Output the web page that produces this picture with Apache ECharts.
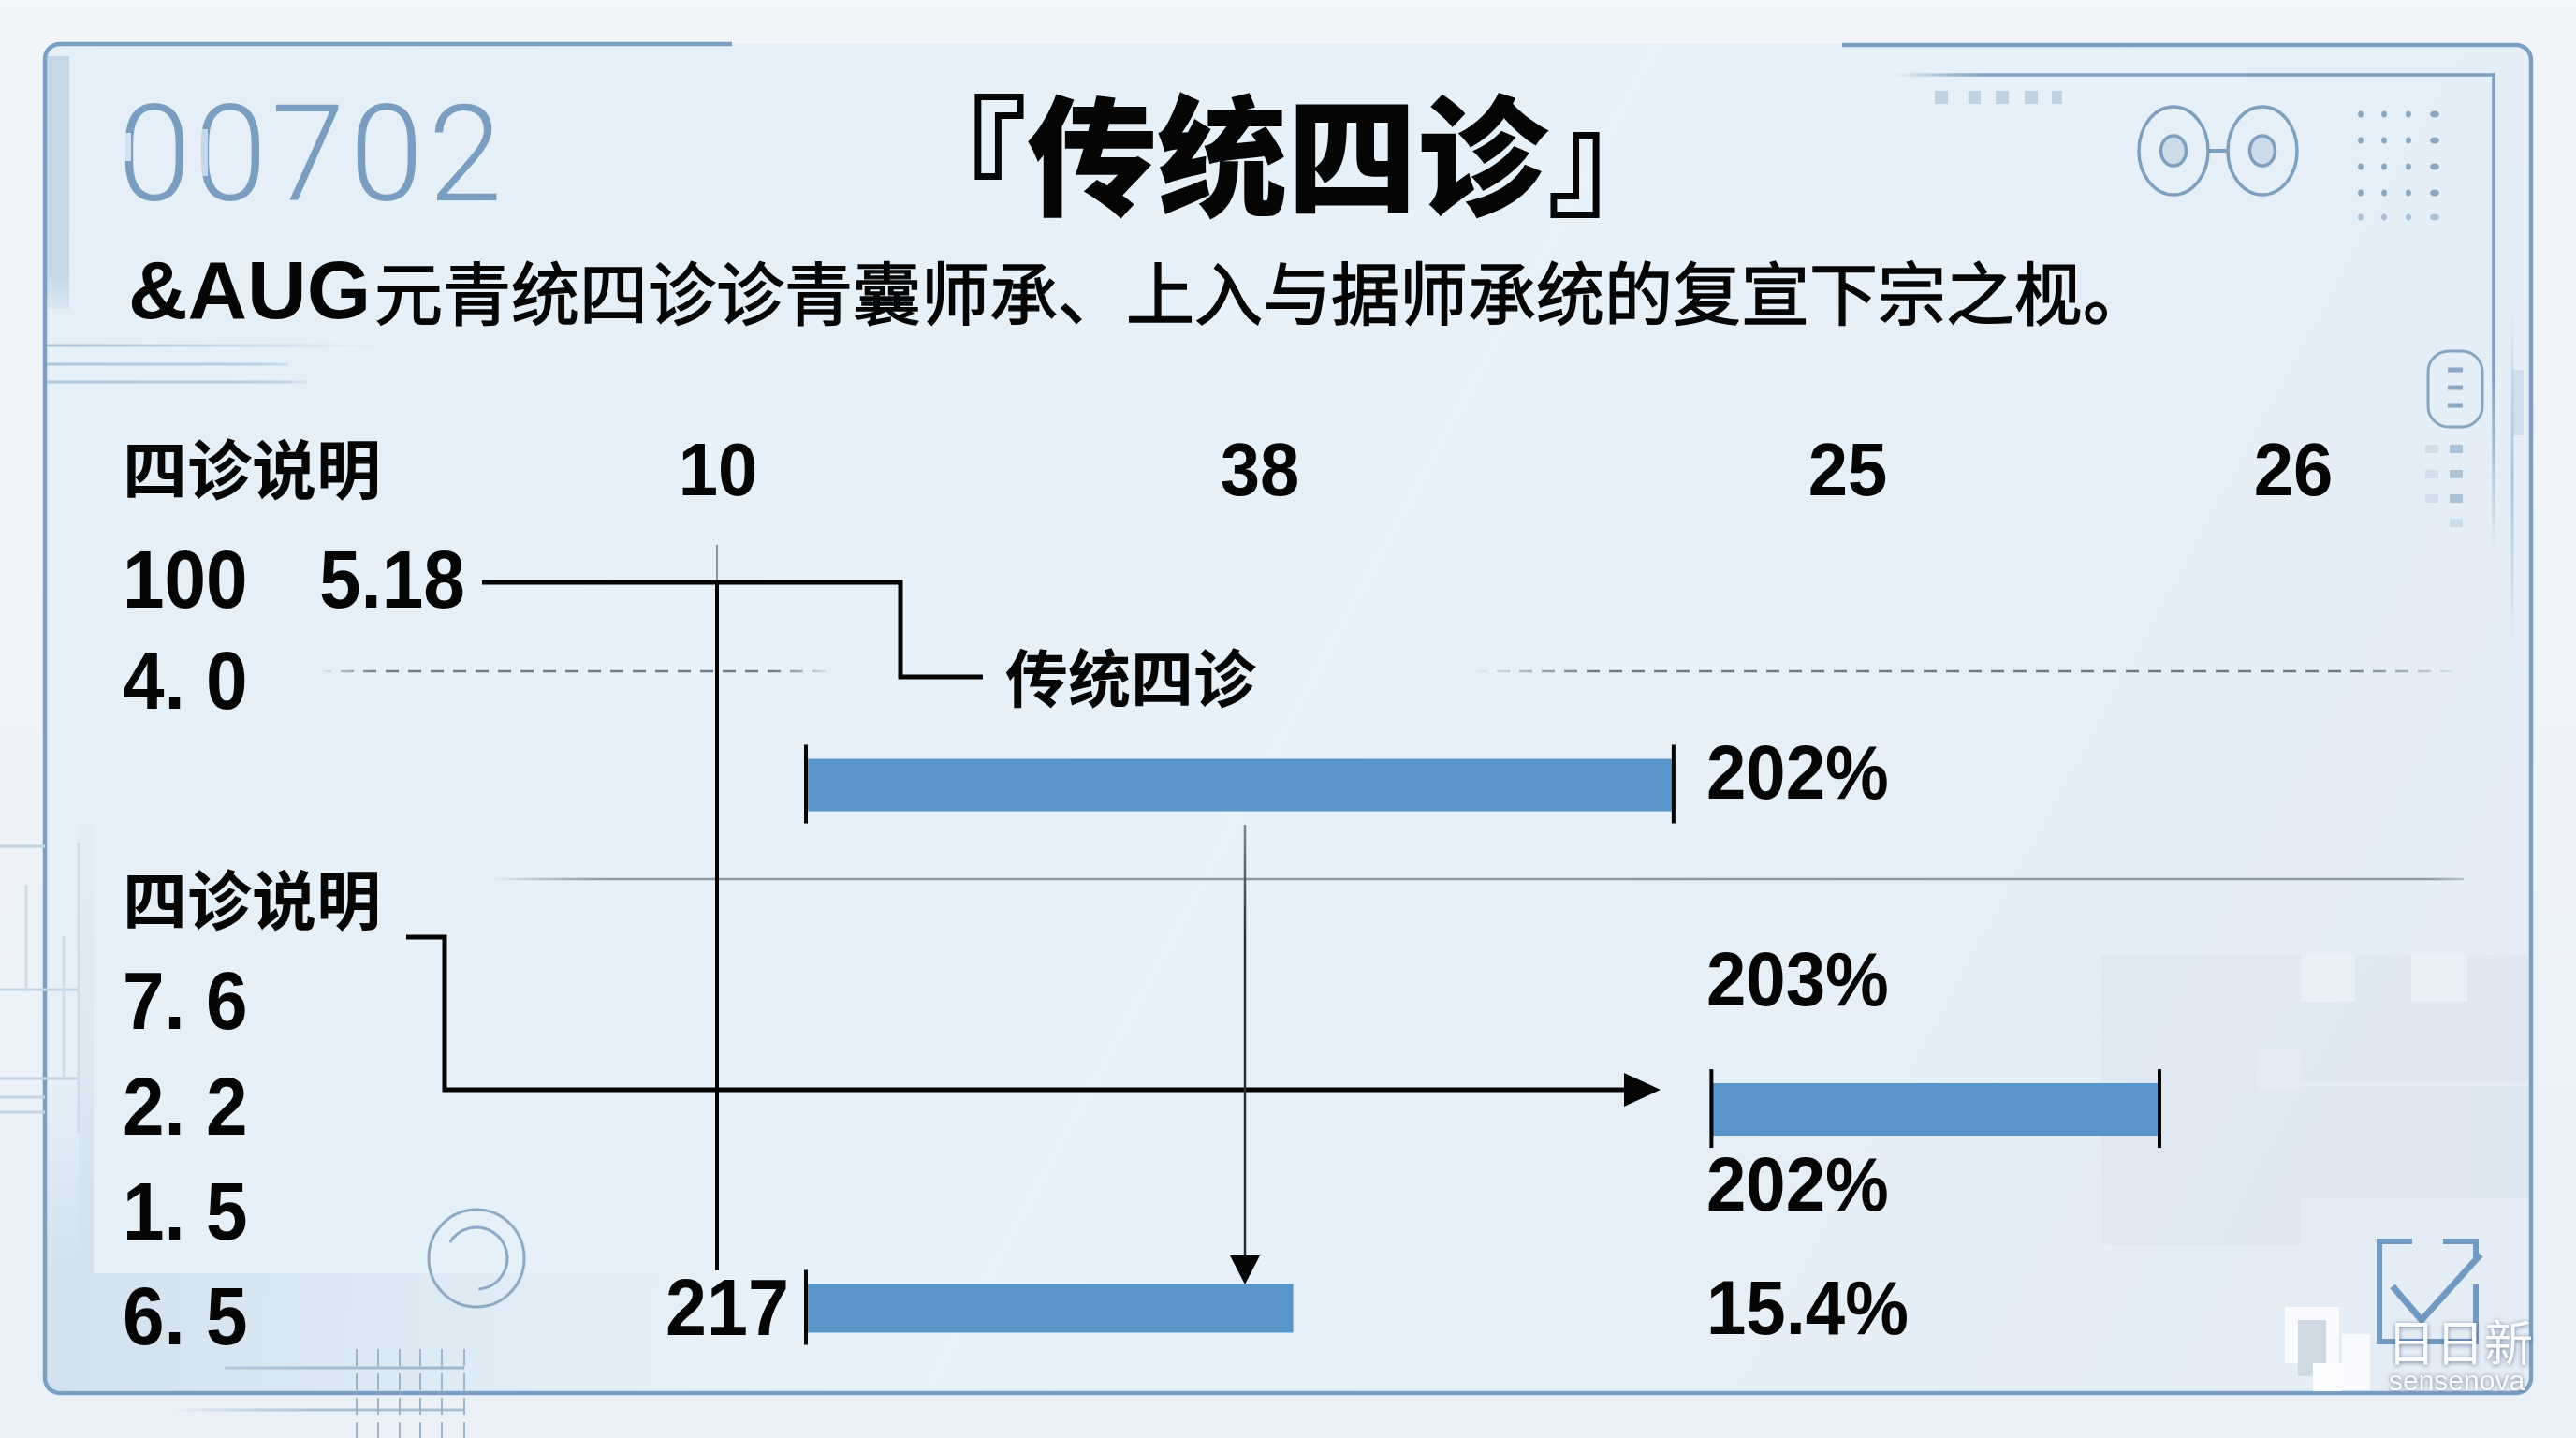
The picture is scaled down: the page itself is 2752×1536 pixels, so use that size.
<!DOCTYPE html>
<html><head><meta charset="utf-8">
<style>html,body{margin:0;padding:0;background:#eef3fa}#c{width:2752px;height:1536px}</style>
<script src="https://cdn.jsdelivr.net/npm/echarts@6/dist/echarts.min.js"></script>
</head><body><div id="c"></div>
<script>
// ---------- data ----------
const sectionCode = ['0', '0', '7', '0', '2'];
const titleText = '『传统四诊』';
const subtitleLatin = '&AUG';
const subtitleText = '元青统四诊诊青囊师承、上入与据师承统的复宣下宗之枧。';
const headerLabel = '四诊说明';
const columnTicks = ['10', '38', '25', '26'];
const upperRowLabels = ['100', '5.18', '4. 0'];
const calloutLabel = '传统四诊';
const lowerRowLabels = ['7. 6', '2. 2', '1. 5', '6. 5'];
const startLabel = '217';
const percentLabels = ['202%', '203%', '202%', '15.4%'];
const barRows = [0, 62, 100];
const barStarts = [0, 66.9, 0];
const barEnds = [64.1, 100, 36];
const barRightTick = [1, 1, 0];

// ---------- helpers ----------
const SANS = '"Liberation Sans","Noto Sans CJK SC",sans-serif';
const CJK = '"Noto Sans CJK SC","Liberation Sans",sans-serif';
const INK = '#050505';
const FRAME = '#7ba0c3';
const G = [];
const grad = (x0, y0, x1, y1, stops) =>
  new echarts.graphic.LinearGradient(x0, y0, x1, y1, stops.map(s => ({offset: s[0], color: s[1]})), true);
const text = (t, x, y, font, opt) => {
  const o = Object.assign({}, opt || {});
  const sx = o.sx || 1;
  delete o.sx;
  G.push({type: 'text', silent: true, z: 10, x, y, scaleX: sx, style: Object.assign({
    text: t, x: 0, y: 0, font, fill: INK, textAlign: 'left', textVerticalAlign: 'middle'}, o)});
};
const line = (x1, y1, x2, y2, stroke, lineWidth, extra) => G.push({type: 'line', silent: true, z: 5,
  shape: {x1, y1, x2, y2}, style: Object.assign({stroke, lineWidth}, extra || {})});
const poly = (points, stroke, lineWidth, z) => G.push({type: 'polyline', silent: true, z: z || 5,
  shape: {points}, style: {stroke, lineWidth, fill: 'none', lineJoin: 'miter'}});
const rect = (x, y, width, height, fill, r, z) => G.push({type: 'rect', silent: true, z: z || 1,
  shape: {x, y, width, height, r: r || 0}, style: {fill}});
const tri = (points) => G.push({type: 'polygon', silent: true, z: 6, shape: {points}, style: {fill: INK}});
const ell = (cx, cy, rx, ry, stroke, lineWidth, fill) => G.push({type: 'ellipse', silent: true, z: 3,
  shape: {cx, cy, rx, ry}, style: {stroke, lineWidth, fill: fill || 'none'}});
const corner = (cx, cy, r, a0, a1) => {
  const pts = [];
  for (let i = 0; i <= 8; i++) {
    const a = (a0 + (a1 - a0) * i / 8) * Math.PI / 180;
    pts.push([cx + r * Math.cos(a), cy + r * Math.sin(a)]);
  }
  return pts;
};

// ---------- background panel ----------
rect(0, 0, 2752, 1536, grad(0, 0, 0, 1536, [[0, '#f2f5fa'], [0.5, '#eff4fa'], [1, '#e9f0f8']]), 0, 0);
rect(48, 47, 2656, 1441, grad(48, 47, 2704, 1488, [[0, '#e4eff8'], [0.5, '#e7f1f9'], [1, '#e4edf6']]), 16, 0);
rect(50, 60, 24, 270, grad(0, 290, 0, 350, [[0, '#c3d7e7'], [1, 'rgba(195,215,231,0)']]));
const DARK = 'rgba(125,140,170,0.045)', LIGHT = 'rgba(255,255,255,0.12)';
rect(2245, 1020, 213, 310, DARK);
rect(2458, 1020, 58, 50, LIGHT);
rect(2516, 1020, 60, 50, DARK);
rect(2576, 1020, 60, 50, LIGHT);
rect(2636, 1020, 66, 50, DARK);
rect(2458, 1070, 244, 86, DARK);
rect(2410, 1120, 48, 46, LIGHT);
rect(2458, 1160, 182, 120, DARK);
rect(2640, 1160, 62, 120, 'rgba(125,140,170,0.07)');
rect(84, 880, 16, 480, grad(0, 880, 0, 1360, [[0, '#e2edf6'], [1, '#d6e4ef']]));
rect(50, 1360, 720, 126, grad(50, 0, 770, 0, [[0, '#d2e1ee'], [1, 'rgba(210,225,238,0)']]));
rect(50, 1150, 50, 210, grad(0, 1150, 0, 1360, [[0, 'rgba(210,225,238,0)'], [1, '#d2e1ee']]));

// ---------- frame ----------
poly([[782, 47], [64, 47]].concat(corner(64, 63, 16, 270, 180), [[48, 1472]],
  corner(64, 1472, 16, 180, 90), [[2688, 1488]], corner(2688, 1472, 16, 90, 0),
  [[2704, 64]], corner(2688, 64, 16, 0, -90), [[1968, 48]]), FRAME, 4.5, 2);
line(2022, 80, 2664, 80, grad(2022, 0, 2120, 0, [[0, 'rgba(123,160,195,0)'], [1, FRAME]]), 3.5);
line(2664, 78, 2664, 590, grad(0, 400, 0, 590, [[0, FRAME], [1, 'rgba(123,160,195,0)']]), 3.5);
line(2684, 330, 2684, 690, grad(0, 330, 0, 690, [[0, 'rgba(168,195,218,0)'], [0.5, '#a8c3da'], [1, 'rgba(168,195,218,0)']]), 3);
rect(2684, 395, 12, 70, 'rgba(190,212,230,0.6)');

// left stubs
line(50, 369, 400, 369, grad(50, 0, 410, 0, [[0, '#a5bed6'], [1, 'rgba(165,190,214,0)']]), 3);
line(50, 389, 308, 389, grad(50, 0, 320, 0, [[0, '#aec6da'], [0.8, '#bcd1e2'], [1, 'rgba(180,205,225,0.3)']]), 3);
line(50, 408, 328, 408, grad(50, 0, 330, 0, [[0, '#aec6da'], [0.85, '#bcd1e2'], [1, 'rgba(180,205,225,0.3)']]), 3);

// outer-left faint structure
[[0, 904, 48], [0, 1057, 84], [0, 1152, 84], [0, 1172, 48], [0, 1188, 48]].forEach(h =>
  line(h[0], h[1], h[2], h[1], '#c3d4e3', 3));
[[28, 945, 1057], [68, 1000, 1152], [84, 900, 1210]].forEach(v => line(v[0], v[1], v[0], v[2], '#cfdeea', 3));

// bottom-left grid ticks
line(240, 1461, 496, 1461, grad(100, 0, 496, 0, [[0, 'rgba(160,185,208,0)'], [0.6, '#a3bcd3'], [1, '#9db7cf']]), 3);
line(183, 1506, 496, 1506, grad(183, 0, 496, 0, [[0, 'rgba(160,185,208,0)'], [0.5, '#a9c0d5'], [1, '#a9c0d5']]), 3);
[381, 404, 427, 449, 472, 496].forEach(x =>
  line(x, 1441, x, 1536, '#9cb5cc', 2, {lineDash: [18, 8]}));

// bottom-left circle
ell(509, 1344, 51, 52, '#8ea9c5', 3);
G.push({type: 'arc', silent: true, z: 3, shape: {cx: 509, cy: 1344, r: 33, startAngle: -2.6, endAngle: 1.5},
  style: {stroke: '#8ea9c5', lineWidth: 3, fill: 'none'}});

// glasses
[2322, 2417].forEach(cx => {
  ell(cx, 161, 37, 47, '#7f9fbf', 3.5);
  ell(cx, 161, 13.5, 16, '#7f9fbf', 3.5, '#cddcea');
});
line(2358, 161, 2382, 161, '#7f9fbf', 4);

// dot grid
[122, 150, 178, 206, 232].forEach((y, r) => [2522, 2547, 2573, 2601].forEach((x, c) =>
  G.push({type: 'ellipse', silent: true, z: 3, shape: {cx: x, cy: y, rx: c === 3 ? 5 : 3, ry: 3.5},
    style: {fill: r === 4 ? '#a9c0d5' : '#8ba6c1'}})));

// blurred top dashes
[[2067, 14], [2103, 13], [2132, 14], [2163, 14], [2192, 11]].forEach(d =>
  rect(d[0], 97, d[1], 14, '#c0d2e2'));

// pill icon
G.push({type: 'rect', silent: true, z: 3, shape: {x: 2594, y: 375, width: 58, height: 81, r: 22},
  style: {fill: 'none', stroke: '#86a5c2', lineWidth: 3}});
[395, 414, 433].forEach(y => line(2615, y, 2631, y, '#8ba9c5', 5));
[[2598, 479], [2624, 479], [2598, 506], [2624, 506], [2598, 532], [2624, 532], [2624, 558]].forEach((s, i) =>
  rect(s[0] - 7, s[1] - 4, 14, 9, s[0] === 2598 ? '#d2dfeb' : (i === 6 ? '#cddcea' : '#abc2d7'), 1, 3));

// checkbox
poly([[2577, 1326], [2542, 1326], [2542, 1433], [2645, 1433], [2645, 1372]], '#7299c0', 6, 3);
poly([[2610, 1326], [2645, 1326], [2645, 1344]], '#7299c0', 6, 3);
poly([[2556, 1374], [2587, 1410], [2650, 1340]], '#7299c0', 7, 3);

// watermark
rect(2441, 1396, 58, 60, '#f8fafd', 0, 8);
rect(2455, 1410, 30, 60, '#cfd9e3', 0, 8);
rect(2502, 1425, 30, 60, '#f8fafd', 0, 8);
rect(2471, 1456, 31, 30, '#fafcfe', 0, 8);
text('日日新', 2550, 1434, '400 52px ' + CJK, {fill: '#fbfcfe', textShadowColor: 'rgba(60,85,115,0.75)', textShadowBlur: 5, textShadowOffsetY: 1});
text('sensenova', 2552, 1477, '30px ' + SANS, {fill: '#fbfcfe', textShadowColor: 'rgba(60,85,115,0.75)', textShadowBlur: 4});

// ---------- text ----------
[165, 246, 329, 413, 497].forEach((x, i) =>
  text(sectionCode[i], x, 178, '300 142px Roboto,' + SANS, {fill: '#7b9dbf', textAlign: 'center'}));
// soft breaks in the outlined code
rect(124, 142, 16, 30, 'rgba(229,240,249,0.85)', 0, 11);
rect(208, 138, 14, 50, 'rgba(229,240,249,0.7)', 0, 11);
rect(296, 175, 14, 22, 'rgba(229,240,249,0.6)', 0, 11);

text(titleText, 1375, 166, '900 139px ' + CJK, {textAlign: 'center'});
text(subtitleLatin, 137, 316, '700 88px ' + SANS);
text(subtitleText, 400, 313, '400 73px ' + CJK, {stroke: INK, lineWidth: 1.4});
text(headerLabel, 131, 502, '700 69px ' + CJK);
[767, 1346, 1974, 2450].forEach((x, i) =>
  text(columnTicks[i], x, 507, '700 80px ' + SANS, {textAlign: 'center', sx: 0.95}));
const LEFTNUM = '700 88px ' + SANS;
text(upperRowLabels[0], 131, 625, LEFTNUM, {sx: 0.91});
text(upperRowLabels[1], 341, 625, LEFTNUM, {sx: 0.91});
text(upperRowLabels[2], 131, 733, LEFTNUM, {sx: 0.91});
text(calloutLabel, 1074, 725, '700 67px ' + CJK);
text(headerLabel, 131, 962, '700 69px ' + CJK);
[1075, 1188, 1300, 1412].forEach((y, i) => text(lowerRowLabels[i], 131, y, LEFTNUM, {sx: 0.91}));
text(startLabel, 843, 1403, '700 85px ' + SANS, {textAlign: 'right', sx: 0.93});
[831, 1052, 1271, 1403].forEach((y, i) => text(percentLabels[i], 1823, y, '700 81px ' + SANS, {sx: 0.94}));

// ---------- rules and connectors ----------
const fadeDash = (x1, x2) => line(x1, 717, x2, 717, grad(x1, 0, x2, 0,
  [[0, 'rgba(90,105,120,0)'], [0.12, '#6d7c8c'], [0.88, '#6d7c8c'], [1, 'rgba(90,105,120,0)']]), 2.5, {lineDash: [14, 10]});
fadeDash(340, 890);
fadeDash(1575, 2632);
line(521, 939, 2632, 939, grad(521, 0, 2632, 0,
  [[0, 'rgba(120,135,150,0)'], [0.06, '#8d9aa8'], [0.98, '#8d9aa8'], [1, 'rgba(120,135,150,0.4)']]), 2.5);

line(766, 582, 766, 622, '#8a96a3', 2);
line(766, 622, 766, 1357, INK, 4);
poly([[515, 622], [962, 622], [962, 723], [1050, 723]], INK, 5);
poly([[434, 1001], [475, 1001], [475, 1164], [1740, 1164]], INK, 5);
tri([[1735, 1146], [1774, 1164], [1735, 1182]]);
line(1330, 881, 1330, 1345, grad(0, 881, 0, 1000, [[0, '#7a8794'], [1, '#2a2f35']]), 2.5);
tri([[1314, 1341], [1346, 1341], [1330, 1372]]);

// ---------- chart ----------
const barData = barStarts.map((s, i) => [s, barEnds[i], barRows[i], barRightTick[i]]);
const chart = echarts.init(document.getElementById('c'), null, {renderer: 'canvas'});
chart.setOption({
  animation: false,
  backgroundColor: '#eef3fa',
  grid: {left: 861, top: 838.5, width: 1446, height: 559},
  xAxis: {type: 'value', min: 0, max: 100, show: false},
  yAxis: {type: 'value', min: 0, max: 100, inverse: true, show: false},
  graphic: {elements: G},
  series: [{
    type: 'custom',
    clip: false,
    z: 4,
    silent: true,
    encode: {x: [0, 1], y: 2},
    data: barData,
    renderItem(params, api) {
      const a = api.coord([api.value(0), api.value(2)]);
      const b = api.coord([api.value(1), api.value(2)]);
      const idx = params.dataIndex;
      const half = idx === 2 ? 26 : 28;
      const children = [{
        type: 'rect',
        shape: {x: a[0] + 1, y: a[1] - half, width: b[0] - a[0] - 1, height: half * 2},
        style: {fill: '#5795ca'}
      }];
      const tick = x => ({
        type: 'line',
        shape: {x1: x, y1: a[1] - half - 15, x2: x, y2: a[1] + half + 13},
        style: {stroke: INK, lineWidth: 4}
      });
      children.push(tick(a[0]));
      if (api.value(3)) children.push(tick(b[0]));
      return {type: 'group', children};
    }
  }]
});
</script></body></html>
